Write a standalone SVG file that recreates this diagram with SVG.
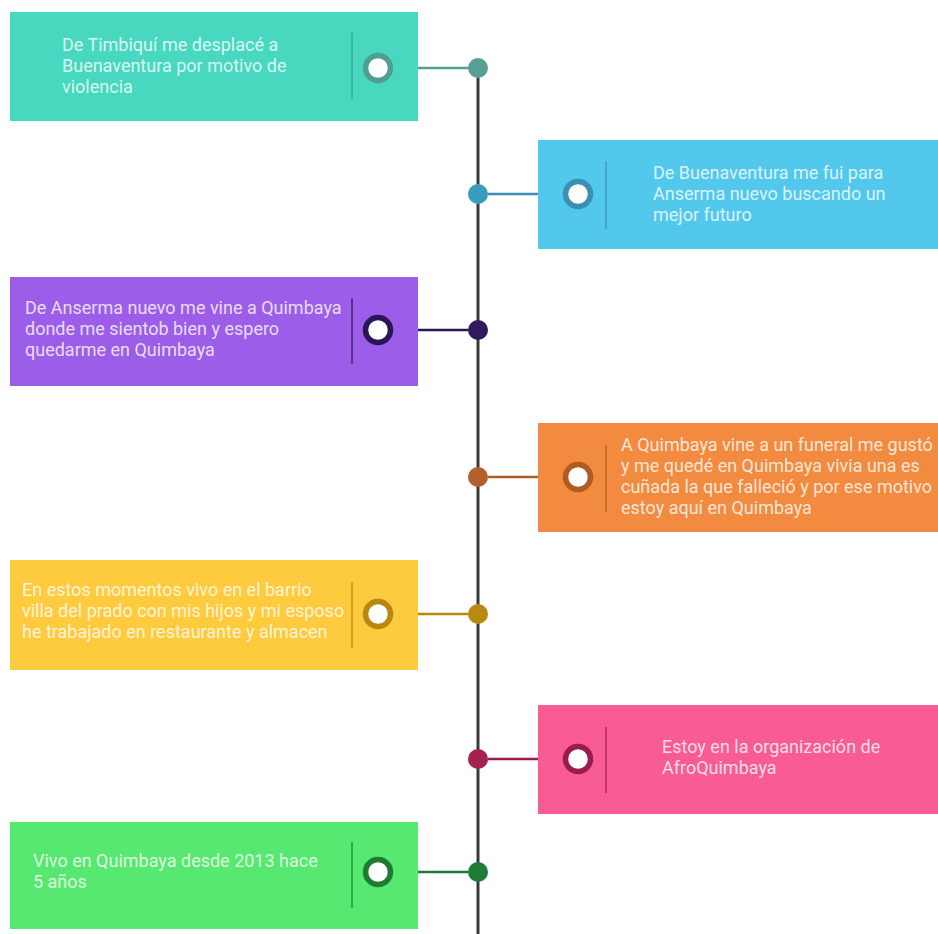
<svg xmlns="http://www.w3.org/2000/svg" width="938" height="934" viewBox="0 0 938 934">
<style>
.t{font-family:Roboto,"Liberation Sans",sans-serif;font-size:18px;fill:#ffffff;fill-opacity:0.8}
.sep{stroke-width:1.6;stroke-opacity:0.75}
.ring{fill:#ffffff;stroke-width:5.5}
.con{stroke-width:2.5}
</style>
<rect width="938" height="934" fill="#ffffff"/>
<g id="connectors">
<line x1="478" y1="68" x2="478" y2="934" stroke="#3a3a3a" stroke-width="3"/>
<line class="con" x1="393" y1="68" x2="468" y2="68" stroke="#4f9e8f"/>
<line class="con" x1="488" y1="194" x2="563" y2="194" stroke="#3a90b4"/>
<line class="con" x1="393" y1="330" x2="468" y2="330" stroke="#2c1456"/>
<line class="con" x1="488" y1="477" x2="563" y2="477" stroke="#b05b22"/>
<line class="con" x1="393" y1="614" x2="468" y2="614" stroke="#b8870f"/>
<line class="con" x1="488" y1="759" x2="563" y2="759" stroke="#9a1c4f"/>
<line class="con" x1="393" y1="872" x2="468" y2="872" stroke="#1f7a32"/>
<circle cx="478" cy="68" r="10" fill="#5a9f95"/>
<circle cx="478" cy="194" r="10" fill="#3a9cbc"/>
<circle cx="478" cy="330" r="10" fill="#2f1a5c"/>
<circle cx="478" cy="477" r="10" fill="#b4602c"/>
<circle cx="478" cy="614" r="10" fill="#b98a12"/>
<circle cx="478" cy="759" r="10" fill="#a42150"/>
<circle cx="478" cy="872" r="10" fill="#1f7c36"/>
</g>
<g id="node1">
<rect x="10" y="12" width="408" height="109" fill="#47d8bf"/>
<line class="sep" x1="352" y1="33" x2="352" y2="99" stroke="#3a9a88"/>
<circle class="ring" cx="378" cy="68" r="12.5" stroke="#4f9e8f"/>
<text class="t" x="62" y="51">De Timbiquí me desplacé a</text>
<text class="t" x="62" y="72">Buenaventura por motivo de</text>
<text class="t" x="62" y="93">violencia</text>
</g>
<g id="node2">
<rect x="538" y="140" width="400" height="109" fill="#52c8ec"/>
<line class="sep" x1="606" y1="161" x2="606" y2="229" stroke="#3a90b4"/>
<circle class="ring" cx="578" cy="194" r="12.5" stroke="#3a90b4"/>
<text class="t" x="653" y="179">De Buenaventura me fui para</text>
<text class="t" x="653" y="200">Anserma nuevo buscando un</text>
<text class="t" x="653" y="221">mejor futuro</text>
</g>
<g id="node3">
<rect x="10" y="277" width="408" height="109" fill="#9c5de8"/>
<line class="sep" x1="352" y1="298" x2="352" y2="364" stroke="#2c1456"/>
<circle class="ring" cx="378" cy="330" r="12.5" stroke="#2c1456"/>
<text class="t" x="25" y="314">De Anserma nuevo me vine a Quimbaya</text>
<text class="t" x="25" y="335">donde me sientob bien y espero</text>
<text class="t" x="25" y="356">quedarme en Quimbaya</text>
</g>
<g id="node4">
<rect x="538" y="423" width="400" height="109" fill="#f28b3f"/>
<line class="sep" x1="606" y1="445" x2="606" y2="512" stroke="#b05b22"/>
<circle class="ring" cx="578" cy="477" r="12.5" stroke="#b05b22"/>
<text class="t" x="621" y="451">A Quimbaya vine a un funeral me gustó</text>
<text class="t" x="621" y="472">y me quedé en Quimbaya vivia una es</text>
<text class="t" x="621" y="493">cuñada la que falleció y por ese motivo</text>
<text class="t" x="621" y="514">estoy aquí en Quimbaya</text>
</g>
<g id="node5">
<rect x="10" y="560" width="408" height="110" fill="#fecb3f"/>
<line class="sep" x1="352" y1="582" x2="352" y2="648" stroke="#b8870f"/>
<circle class="ring" cx="378" cy="614" r="12.5" stroke="#b8870f"/>
<text class="t" x="22" y="596">En estos momentos vivo en el barrio</text>
<text class="t" x="22" y="617">villa del prado con mis hijos y mi esposo</text>
<text class="t" x="22" y="638">he trabajado en restaurante y almacen</text>
</g>
<g id="node6">
<rect x="538" y="705" width="400" height="109" fill="#f95b94"/>
<line class="sep" x1="606" y1="727" x2="606" y2="793" stroke="#9a1c4f"/>
<circle class="ring" cx="578" cy="759" r="12.5" stroke="#9a1c4f"/>
<text class="t" x="662" y="753">Estoy en la organización de</text>
<text class="t" x="662" y="774">AfroQuimbaya</text>
</g>
<g id="node7">
<rect x="10" y="822" width="408" height="107" fill="#57e871"/>
<line class="sep" x1="352" y1="842" x2="352" y2="908" stroke="#1f7a32"/>
<circle class="ring" cx="378" cy="872" r="12.5" stroke="#1f7a32"/>
<text class="t" x="33" y="867">Vivo en Quimbaya desde 2013 hace</text>
<text class="t" x="33" y="888">5 años</text>
</g>
</svg>
